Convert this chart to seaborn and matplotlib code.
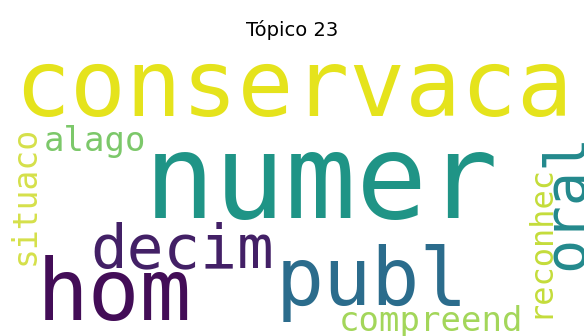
import matplotlib
matplotlib.use("Agg")
import matplotlib.pyplot as plt
import seaborn as sns

sns.set_style("white")
plt.rcParams['font.family'] = ['DejaVu Sans']

#%% word cloud data (topic 23)
words = ['numer', 'conservaca', 'hom', 'publ', 'decim', 'oral',
         'alago', 'situaco', 'compreend', 'reconhec']
weights = [1.0, 0.787, 0.729, 0.678, 0.517, 0.483, 0.288, 0.28, 0.288, 0.271]

# layout of the 400x200 cloud canvas: baseline origin, font size, rotation
pos_x = [98.6, 10.0, 25.0, 189.0, 61.6, 398.6, 30.1, 24.0, 232.2, 375.3]
pos_y = [119.2, 49.3, 189.0, 178.8, 152.7, 154.8, 73.3, 151.4, 196.6, 187.7]
rot = [0, 0, 0, 0, 0, 90, 0, 90, 0, 90]
colors = ['#1f9486', '#e5e31c', '#430d57', '#2b6c8c', '#432066', '#23898c',
          '#7cc86a', '#d5e04a', '#a3d65a', '#c4dc3a']

max_size = 80.8  # canvas px of the biggest word

#%%
fig = plt.figure(figsize=(5.84, 3.36), dpi=100)
ax = fig.add_axes([0, 0, 1, 292 / 336])
ax.set_xlim(0, 400)
ax.set_ylim(200, 0)
ax.axis('off')

scale = 584 / 400  # display px per canvas px
for w, wt, x, y, r, c in zip(words, weights, pos_x, pos_y, rot, colors):
    size_pt = wt * max_size * scale * 72 / fig.dpi
    ax.text(x, y, w, fontsize=size_pt, family='DejaVu Sans Mono', color=c,
            ha='left', va='baseline', rotation=r, rotation_mode='anchor')

ax.set_title('Tópico 23', fontsize=14, pad=5.5, color='black')
fig.savefig('out.png', dpi=100)
